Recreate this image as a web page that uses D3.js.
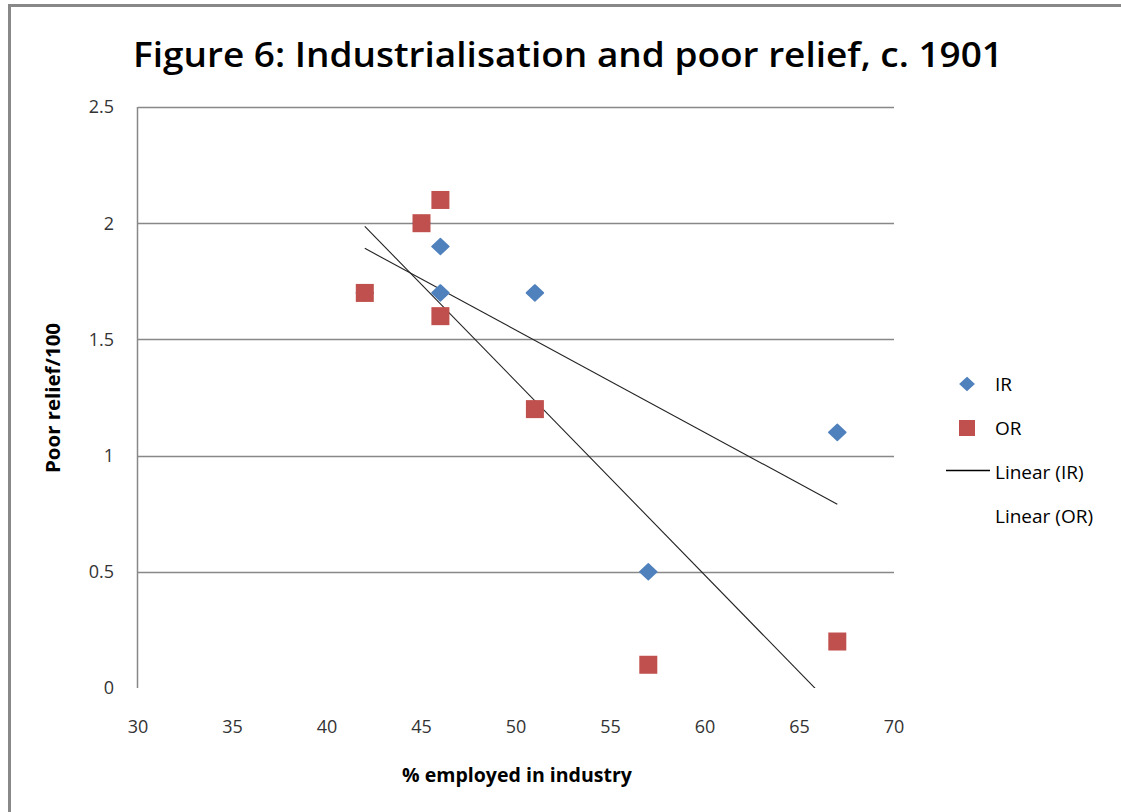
<!DOCTYPE html>
<html>
<head>
<meta charset="utf-8">
<script src="https://cdn.jsdelivr.net/npm/d3@7"></script>
<style>
	body { margin: 0; background: #fff; }
	svg { display: block; }
</style>
</head>
<body>
<svg id="chart" width="1121" height="812"></svg>
<script>
// data
var irX = [42, 45, 46, 46, 51, 57, 67];
var irY = [1.7, 2.0, 1.9, 1.7, 1.7, 0.5, 1.1];
var orX = [42, 45, 46, 46, 51, 57, 67];
var orY = [1.7, 2.0, 2.1, 1.6, 1.2, 0.1, 0.2];
var xTicks = [30, 35, 40, 45, 50, 55, 60, 65, 70];
var yTicks = [0, 0.5, 1, 1.5, 2, 2.5];

var BLUE = "#4f81bd";
var RED = "#c0504d";
var FONT = "'Open Sans', 'Noto Sans', sans-serif";

var svg = d3.select("#chart");

// outer frame
svg.append("rect")
	.attr("x", 9.5).attr("y", 5.5)
	.attr("width", 1200).attr("height", 900)
	.attr("fill", "#fff")
	.attr("stroke", "#888")
	.attr("stroke-width", 3);

var x = d3.scaleLinear().domain([30, 70]).range([138, 894]);
var y = d3.scaleLinear().domain([0, 2.5]).range([688, 107]);

// least squares fit, same as the spreadsheet "Linear" trendline
function fit(xs, ys) {
	var n = xs.length, mx = d3.mean(xs), my = d3.mean(ys);
	var sxy = 0, sxx = 0;
	for (var i = 0; i < n; i++) {
		sxy += (xs[i] - mx) * (ys[i] - my);
		sxx += (xs[i] - mx) * (xs[i] - mx);
	}
	var b = sxy / sxx;
	return function(v) { return my + b * (v - mx); };
}

// gridlines
svg.append("g").selectAll("line")
	.data(yTicks.filter(function(d) { return d > 0; }))
	.enter().append("line")
		.attr("x1", x(30)).attr("x2", x(70))
		.attr("y1", function(d) { return Math.round(y(d)) + 0.5; })
		.attr("y2", function(d) { return Math.round(y(d)) + 0.5; })
		.attr("stroke", "#888")
		.attr("stroke-width", 1.3);

// y axis line
svg.append("line")
	.attr("x1", x(30) - 0.5).attr("x2", x(30) - 0.5)
	.attr("y1", y(2.5)).attr("y2", y(0))
	.attr("stroke", "#888")
	.attr("stroke-width", 1.5);

// tick labels
svg.append("g").selectAll("text")
	.data(yTicks)
	.enter().append("text")
		.attr("x", 114)
		.attr("y", function(d) { return y(d); })
		.attr("dy", "0.35em")
		.attr("text-anchor", "end")
		.attr("font-family", FONT)
		.attr("font-size", 18)
		.attr("fill", "#333")
		.text(function(d) { return d; });

svg.append("g").selectAll("text")
	.data(xTicks)
	.enter().append("text")
		.attr("x", function(d) { return x(d); })
		.attr("y", 733)
		.attr("text-anchor", "middle")
		.attr("font-family", FONT)
		.attr("font-size", 18)
		.attr("fill", "#333")
		.text(function(d) { return d; });

// trend lines, clipped to the plot area
svg.append("clipPath").attr("id", "plotclip")
	.append("rect")
		.attr("x", x(30)).attr("y", y(2.5))
		.attr("width", x(70) - x(30)).attr("height", y(0) - y(2.5));

var trends = svg.append("g").attr("clip-path", "url(#plotclip)");
[[irX, irY], [orX, orY]].forEach(function(s) {
	var f = fit(s[0], s[1]);
	var lo = d3.min(s[0]), hi = d3.max(s[0]);
	trends.append("line")
		.attr("x1", x(lo)).attr("y1", y(f(lo)))
		.attr("x2", x(hi)).attr("y2", y(f(hi)))
		.attr("stroke", "#222")
		.attr("stroke-width", 1.1);
});

// markers
var diamond = "M0,-8L8.5,0L0,8L-8.5,0Z";
svg.append("g").selectAll("path")
	.data(d3.range(irX.length))
	.enter().append("path")
		.attr("d", diamond)
		.attr("transform", function(i) { return "translate(" + x(irX[i]) + "," + y(irY[i]) + ")"; })
		.attr("fill", BLUE)
		.attr("stroke", BLUE)
		.attr("stroke-width", 1.5)
		.attr("stroke-linejoin", "round");

svg.append("g").selectAll("rect")
	.data(d3.range(orX.length))
	.enter().append("rect")
		.attr("x", function(i) { return x(orX[i]) - 9; })
		.attr("y", function(i) { return y(orY[i]) - 9; })
		.attr("width", 18).attr("height", 18)
		.attr("fill", RED);

// title
svg.append("text")
	.attr("x", 568).attr("y", 67)
	.attr("text-anchor", "middle")
	.attr("font-family", FONT)
	.attr("font-size", 35)
	.attr("font-weight", 600)
	.attr("fill", "#000")
	.attr("textLength", 870)
	.attr("lengthAdjust", "spacingAndGlyphs")
	.text("Figure 6: Industrialisation and poor relief, c. 1901");

// axis titles
svg.append("text")
	.attr("transform", "translate(60,398) rotate(-90)")
	.attr("text-anchor", "middle")
	.attr("font-family", FONT)
	.attr("font-size", 19)
	.attr("font-weight", "bold")
	.attr("textLength", 150)
	.attr("lengthAdjust", "spacingAndGlyphs")
	.text("Poor relief/100");

svg.append("text")
	.attr("x", 517).attr("y", 782)
	.attr("text-anchor", "middle")
	.attr("font-family", FONT)
	.attr("font-size", 19)
	.attr("font-weight", "bold")
	.attr("textLength", 230)
	.attr("lengthAdjust", "spacingAndGlyphs")
	.text("% employed in industry");

// legend
var lg = svg.append("g").attr("font-family", FONT).attr("font-size", 19).attr("fill", "#000");
lg.append("path").attr("d", "M0,-6.5L7,0L0,6.5L-7,0Z").attr("transform", "translate(967,384)")
	.attr("fill", BLUE).attr("stroke", BLUE).attr("stroke-width", 1.2);
lg.append("rect").attr("x", 959).attr("y", 420).attr("width", 16).attr("height", 16).attr("fill", RED);
lg.append("line").attr("x1", 946).attr("x2", 990).attr("y1", 470.5).attr("y2", 470.5)
	.attr("stroke", "#000").attr("stroke-width", 1.5);
var legendNames = ["IR", "OR", "Linear (IR)", "Linear (OR)"];
lg.selectAll("text").data(legendNames).enter().append("text")
	.attr("x", 995)
	.attr("y", function(d, i) { return 384 + i * 44; })
	.attr("dy", "0.35em")
	.text(function(d) { return d; });
</script>
</body>
</html>
